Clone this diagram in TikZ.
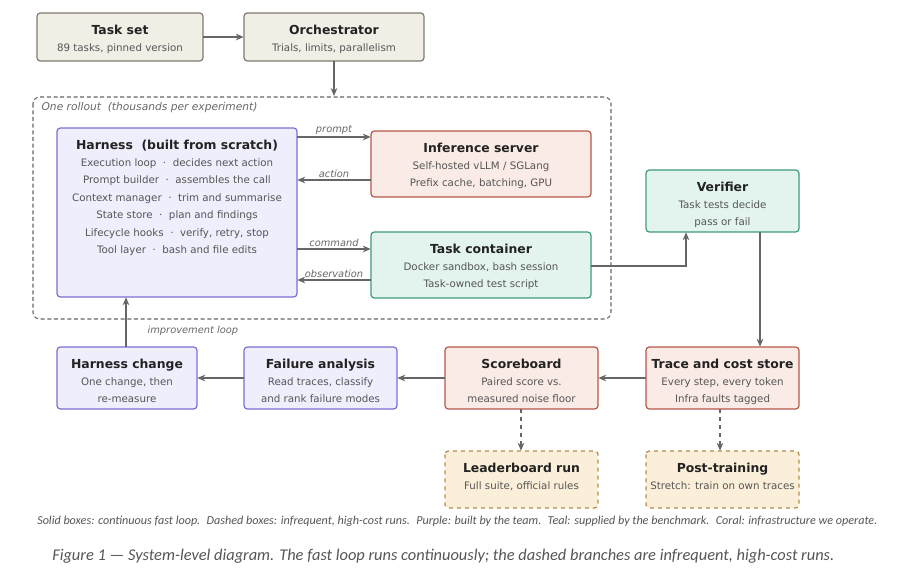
\documentclass[tikz,border=0pt]{standalone}
\usepackage{fontspec}
\setmainfont{DejaVu Sans}
\newfontfamily\capfont{Carlito}
\usetikzlibrary{arrows.meta,calc}
\definecolor{bgF}{HTML}{F1EEE6}\definecolor{bgD}{HTML}{7F7A70}
\definecolor{puF}{HTML}{EEEEFC}\definecolor{puD}{HTML}{7B6FD0}
\definecolor{coF}{HTML}{FAEBE6}\definecolor{coD}{HTML}{B5594A}
\definecolor{teF}{HTML}{E3F4EE}\definecolor{teD}{HTML}{3F9A78}
\definecolor{orF}{HTML}{FBEFD9}\definecolor{orD}{HTML}{B48A4A}
\definecolor{txt}{HTML}{555555}\definecolor{ttl}{HTML}{222222}
\definecolor{arr}{HTML}{666666}
\tikzset{
 bx/.style={draw, rounded corners=2.5pt, line width=0.9pt},
 beige/.style={bx, fill=bgF, draw=bgD},
 purp/.style={bx, fill=puF, draw=puD},
 coral/.style={bx, fill=coF, draw=coD},
 teal/.style={bx, fill=teF, draw=teD},
 orng/.style={bx, fill=orF, draw=orD, dashed},
 btxt/.style={anchor=north, align=center, inner sep=0pt, text=txt, font=\fontsize{7.7}{13.1}\selectfont},
 conn/.style={draw=arr, line width=1pt, -{Stealth[length=6pt,width=5pt]}},
 lab/.style={text=arr, font=\itshape\fontsize{7.4}{9}\selectfont, inner sep=1pt},
}
\newcommand\mkbox[8]{%
 \path[#1] (#3,#4) rectangle (#5,#6);
 \node[inner sep=0pt, minimum width={(#5-#3)*0.75pt}, minimum height={(#6-#4)*0.75pt}] (#2) at ({(#3+#5)/2},{(#4+#6)/2}) {};
 \node[btxt] (#2t) at ({(#3+#5)/2},{#4+12}) {\textcolor{ttl}{\fontsize{9.3}{13.1}\selectfont\bfseries #7}\\[-0.5pt] #8};}
\begin{document}
\begin{tikzpicture}[x=0.75pt,y=-0.75pt]
\useasboundingbox (0,0) rectangle (912,580);
\draw[draw=arr, line width=0.8pt, dash pattern=on 3pt off 2pt, rounded corners=5pt] (33,97) rectangle (611,319);
\node[lab, anchor=west, font=\itshape\fontsize{8}{9}\selectfont] (rl) at (40,108) {One rollout \ (thousands per experiment)};

\mkbox{beige}{ts}{37}{13}{203}{61}{Task set}{89 tasks, pinned version}
\mkbox{beige}{orc}{244}{13}{424}{61}{Orchestrator}{Trials, limits, parallelism}
\mkbox{purp}{har}{57}{128}{297}{297}{Harness \ (built from scratch)}{Execution loop \ · \ decides next action\\Prompt builder \ · \ assembles the call\\Context manager \ · \ trim and summarise\\State store \ · \ plan and findings\\Lifecycle hooks \ · \ verify, retry, stop\\Tool layer \ · \ bash and file edits}
\mkbox{coral}{inf}{371}{131}{591}{197}{Inference server}{Self-hosted vLLM / SGLang\\Prefix cache, batching, GPU}
\mkbox{teal}{tc}{371}{232}{591}{298}{Task container}{Docker sandbox, bash session\\Task-owned test script}
\mkbox{teal}{ver}{646}{170}{799}{232}{Verifier}{Task tests decide\\pass or fail}
\mkbox{purp}{hc}{57}{347}{197}{409}{Harness change}{One change, then\\re-measure}
\mkbox{purp}{fa}{244}{347}{397}{409}{Failure analysis}{Read traces, classify\\and rank failure modes}
\mkbox{coral}{sb}{445}{347}{598}{409}{Scoreboard}{Paired score vs.\\measured noise floor}
\mkbox{coral}{tr}{646}{347}{799}{409}{Trace and cost store}{Every step, every token\\Infra faults tagged}
\mkbox{orng}{lb}{445}{451}{598}{508}{Leaderboard run}{Full suite, official rules}
\mkbox{orng}{pt}{646}{451}{799}{508}{Post-training}{Stretch: train on own traces}

\coordinate (rtop) at (334,96);
\draw[conn] (ts) -- (orc);
\draw[conn] (orc.south) -- (rtop);
\draw[conn] (har.east |- 0,137) -- node[lab, above] {prompt} (inf.west |- 0,137);
\draw[conn] (inf.west |- 0,180) -- node[lab, above] {action} (har.east |- 0,180);
\draw[conn] (har.east |- 0,249) -- node[lab, above] {command} (tc.west |- 0,249);
\draw[conn] (tc.west |- 0,280) -- node[lab, above] {observation} (har.east |- 0,280);
\draw[conn] (tc.east |- 0,266) -| (ver.south -| 686,0);
\draw[conn] (ver.south -| 760,0) -- (tr.north -| 760,0);
\draw[conn] (tr) -- (sb);
\draw[conn] (sb) -- (fa);
\draw[conn] (fa) -- (hc);
\draw[conn] (hc.north -| 126,0) -- (har.south -| 126,0);
\node[lab, anchor=west] (il) at (146,331) {improvement loop};
\draw[conn, dashed] (sb.south -| 521,0) -- (lb.north -| 521,0);
\draw[conn, dashed] (tr.south -| 720,0) -- (pt.north -| 720,0);

\node[anchor=west, inner sep=0pt, text=txt, font=\capfont\itshape\fontsize{9.1}{10}\selectfont] (fn) at (37,521) {Solid boxes: continuous fast loop. \ Dashed boxes: infrequent, high-cost runs. \ Purple: built by the team. \ Teal: supplied by the benchmark. \ Coral: infrastructure we operate.};
\node[anchor=west, inner sep=0pt, text=txt, font=\capfont\itshape\fontsize{12.3}{13}\selectfont] (cap) at (52,556) {Figure 1 — System-level diagram. The fast loop runs continuously; the dashed branches are infrequent, high-cost runs.};
\end{tikzpicture}
\end{document}
